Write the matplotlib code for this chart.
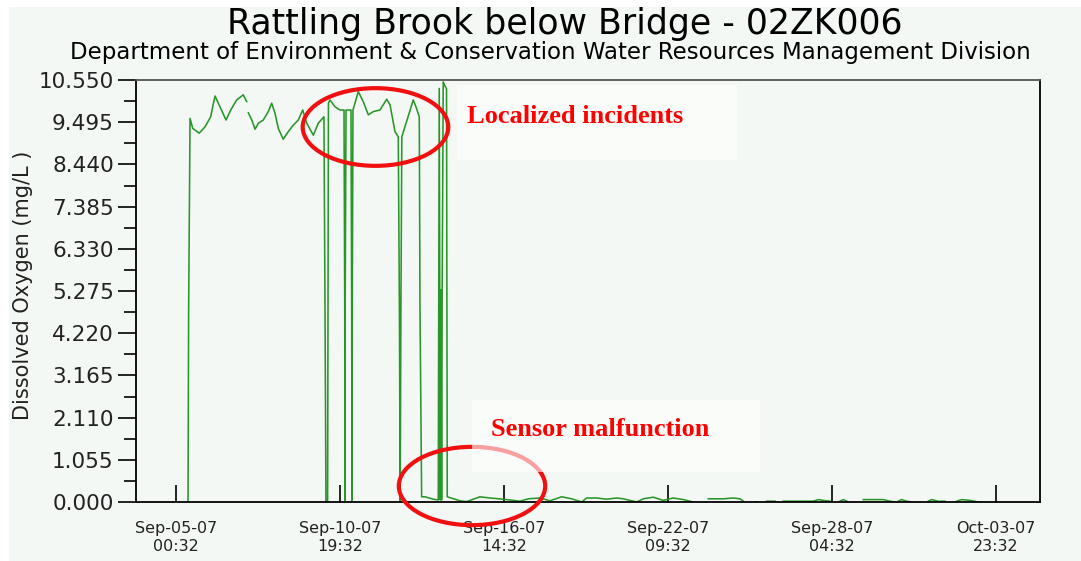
import numpy as np
import matplotlib
matplotlib.use("Agg")
import matplotlib.pyplot as plt
from matplotlib.patches import Ellipse, Rectangle
from matplotlib.ticker import FixedLocator

nan = float("nan")

# hours since Sep-05-07 00:32, dissolved oxygen (mg/L); nan = gap in record
hours = [10.2, 10.7, 11.9, 14.2, 19.7, 24.6, 29.4, 31.1, 33.1, 37.3, 42.4, 46.4, 51.4, 57.0, 59.9, 60.6,
         61.3, 64.2, 67.0, 69.8, 74.0, 78.2, 81.1, 83.9, 86.7, 90.9, 95.2, 99.4, 103.7, 107.4, 110.8,
         116.4, 120.6, 125.4, 126.3, 127.1, 128.5, 129.2, 130.5, 134.8, 139.0, 142.4, 143.0, 143.2,
         143.4, 144.1, 148.3, 148.9, 149.2, 149.4, 150.0, 154.5, 158.7, 163.0, 167.2, 172.9, 178.6,
         181.4, 185.6, 188.4, 189.4, 190.0, 190.6, 191.4, 201.1, 203.4, 206.2, 206.8, 208.2, 211.0,
         218.1, 222.3, 223.1, 224.0, 224.6, 225.1, 225.6, 226.5, 227.6, 229.3, 229.9,
         240.7, 246.4, 252.0, 257.6, 266.1, 277.4, 283.1, 291.5, 298.6, 308.5, 317.0, 326.9, 335.4,
         343.8, 348.1, 356.6, 365.0, 373.5, 379.1, 390.5, 396.1, 404.5, 413.0, 421.5, 430.0, 438.4,
         445.0, 451.2, 463.9, 472.3, 478.0, 480.9, 486.0, 491.1, 492.8, 497.0, 500.6, 507.7, 511.0,
         514.7, 540.1, 544.4, 548.6, 554.3, 558.0, 562.8, 565.6, 569.8, 576.0, 582.5, 599.5, 605.1,
         609.4, 611.0, 612.2, 615.0, 619.3, 623.5, 630.0, 637.6, 640.5, 646.1, 647.0, 647.9, 651.7,
         656.0, 661.7, 665.9, 672.9, 680.0, 683.1]
oxygen = [0.0, 4.75, 9.59, 9.34, 9.22, 9.38, 9.63, 9.88, 10.15, 9.88, 9.55, 9.80, 10.05, 10.18, 10.01, nan,
          9.73, 9.55, 9.32, 9.47, 9.55, 9.76, 9.97, 9.72, 9.34, 9.07, 9.26, 9.42, 9.55, 9.80, 9.47,
          9.17, 9.47, 9.63, 4.85, 0.02, 0.02, 9.97, 10.05, 9.88, 9.80, 9.80, 4.97, 0.02,
          4.97, 9.80, 9.80, 4.97, 0.02, 4.97, 9.80, 10.26, 10.01, 9.68, 9.76, 9.80, 10.07,
          9.93, 9.26, 9.13, 4.60, 0.02, 4.60, 9.13, 10.05, 9.88, 9.63, 4.84, 0.13, 0.13,
          0.07, 0.05, 10.34, 0.05, 5.30, 0.05, 5.30, 10.50, 10.42, 10.33, 0.13,
          0.03, 0.01, 0.07, 0.13, 0.10, 0.07, 0.05, 0.02, 0.08, 0.10, 0.03, 0.13, 0.08,
          0.00, 0.10, 0.10, 0.07, 0.10, 0.08, 0.00, 0.08, 0.12, 0.04, 0.10, 0.06, 0.00,
          nan, 0.08, 0.08, 0.10, 0.08, 0.02, nan, 0.00, 0.00, nan, 0.02, 0.02, nan,
          0.02, 0.02, 0.06, 0.04, 0.02, nan, 0.02, 0.06, 0.00, nan, 0.06, 0.06, 0.02,
          0.00, nan, 0.02, 0.06, 0.02, 0.00, nan, 0.02, 0.06, 0.02, nan, 0.02, 0.02,
          nan, 0.02, 0.06, 0.04, 0.00, 0.00]

tick_hours = [0, 139, 278, 417, 556, 695]
tick_labels = ["Sep-05-07\n00:32", "Sep-10-07\n19:32", "Sep-16-07\n14:32",
               "Sep-22-07\n09:32", "Sep-28-07\n04:32", "Oct-03-07\n23:32"]
y_major = [0.000, 1.055, 2.110, 3.165, 4.220, 5.275, 6.330, 7.385, 8.440, 9.495, 10.550]
y_minor = [0.5275, 1.5825, 2.6375, 3.6925, 4.7475, 5.8025, 6.8575, 7.9125, 8.9675, 10.0225]

W, H = 1081, 561
tint = "#f4f8f5"

def fx(px):
    return px / W

def fy(py):
    return 1 - py / H

fig = plt.figure(figsize=(W / 100, H / 100), dpi=100)
fig.patch.set_facecolor("white")
fig.add_artist(Rectangle((fx(9), 0), 1 - fx(9), fy(7), transform=fig.transFigure,
                         fc=tint, ec="none", zorder=-5))

ax = fig.add_axes([fx(136), fy(502), fx(1040) - fx(136), fy(80) - fy(502)])
ax.set_facecolor(tint)
ax.plot(hours, oxygen, color="#2a952a", lw=1.15)

ax.set_xlim(-33.9, 732.3)
ax.set_ylim(0, 10.55)
ax.set_xticks(tick_hours)
ax.set_xticklabels(tick_labels, fontsize=11.5, linespacing=1.25, color="#222222")
ax.set_yticks(y_major)
ax.set_yticklabels([f"{v:.3f}" for v in y_major], fontsize=15.5, color="#222222")
ax.yaxis.set_minor_locator(FixedLocator(y_minor))
ax.tick_params(axis="x", direction="in", length=12, width=1.2, pad=14)
ax.tick_params(axis="y", which="major", direction="out", length=13, width=1.2, pad=3)
ax.tick_params(axis="y", which="minor", direction="out", length=9, width=1.2)
for s in ax.spines.values():
    s.set_linewidth(1.3)
    s.set_color("black")
ax.spines["top"].set_color("#555555")

fig.text(fx(565), fy(34), "Rattling Brook below Bridge - 02ZK006", ha="center", va="baseline",
         fontsize=25)
fig.text(fx(550), fy(59), "Department of Environment & Conservation Water Resources Management Division",
         ha="center", va="baseline", fontsize=16.5)
fig.text(fx(23), fy(285), "Dissolved Oxygen (mg/L )", rotation=90, ha="center", va="center",
         fontsize=15, color="#222222")

# annotations
fig.add_artist(Ellipse((fx(375.5), fy(127)), 145.6 / W, 77.7 / H, transform=fig.transFigure,
                       fill=False, ec="#f01010", lw=3, zorder=5))
fig.add_artist(Ellipse((fx(472), fy(486)), 146.4 / W, 78.3 / H, transform=fig.transFigure,
                       fill=False, ec="#f01010", lw=3, zorder=5))
fig.add_artist(Rectangle((fx(457), fy(160)), (737 - 457) / W, (160 - 85) / H, transform=fig.transFigure,
                         fc="white", ec="none", alpha=0.6, zorder=6))
fig.add_artist(Rectangle((fx(472), fy(472)), (760 - 472) / W, (472 - 400) / H, transform=fig.transFigure,
                         fc="white", ec="none", alpha=0.6, zorder=6))
fig.text(fx(467), fy(123), "Localized incidents", family="Liberation Serif", weight="bold",
         color="red", fontsize=19, va="baseline", zorder=7)
fig.text(fx(491), fy(436), "Sensor malfunction", family="Liberation Serif", weight="bold",
         color="red", fontsize=19, va="baseline", zorder=7)

fig.savefig("out.png", dpi=100)
